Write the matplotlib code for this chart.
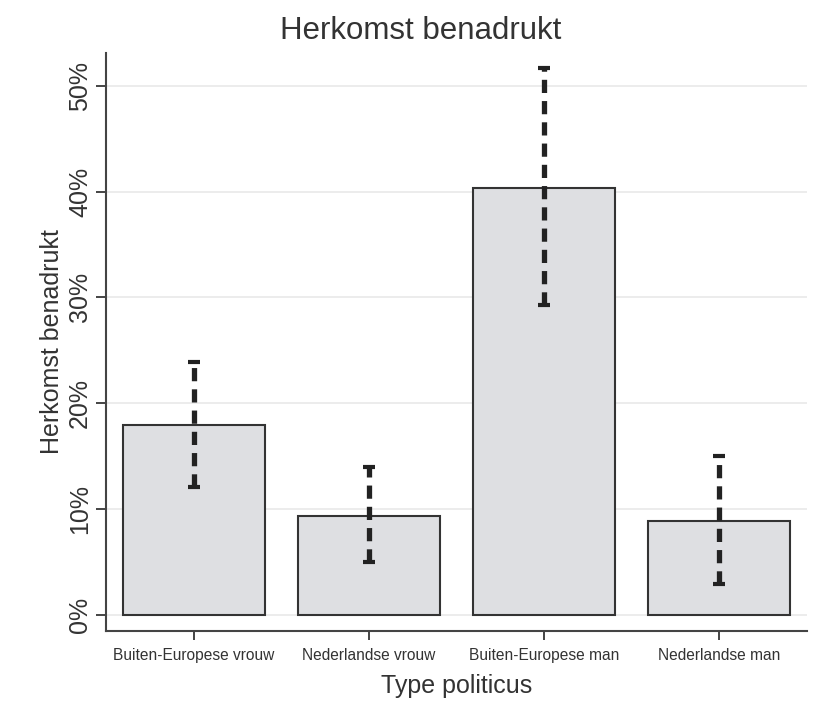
import numpy as np
import matplotlib
matplotlib.use("Agg")
import matplotlib.pyplot as plt
from matplotlib.ticker import FuncFormatter

plt.rcParams['font.family'] = ['Liberation Sans', 'DejaVu Sans']
plt.rcParams['lines.scale_dashes'] = False

# Data (percent)
categories = ["Buiten-Europese vrouw", "Nederlandse vrouw",
              "Buiten-Europese man", "Nederlandse man"]
means = [17.9, 9.35, 40.3, 8.9]
ci_low = [12.1, 4.95, 29.3, 2.9]
ci_high = [23.9, 13.95, 51.7, 15.0]
yticks = [0, 10, 20, 30, 40, 50]

txt = '#333333'
fig = plt.figure(figsize=(8.21, 7.15), dpi=100)
ax = fig.add_axes([0.129, 0.118, 0.854, 0.808])

x = np.arange(len(categories))
ax.bar(x, means, width=0.81, color='#dedfe2', edgecolor='#333333',
       linewidth=1.5, zorder=2)

yerr = [np.array(means) - np.array(ci_low), np.array(ci_high) - np.array(means)]
eb = ax.errorbar(x, means, yerr=yerr, fmt='none', ecolor='#222222',
                 elinewidth=3.8, capsize=4.6, capthick=3, zorder=3)
eb[2][0].set_linestyle((0, (9.5, 5.8)))

ax.set_xlim(-0.5, 3.5)
ax.set_ylim(-1.5, 53.1)
ax.set_yticks(yticks)
ax.yaxis.set_major_formatter(FuncFormatter(lambda v, p: f"{v:.0f}%"))
ax.set_xticks(x)
ax.set_xticklabels(categories, fontsize=11.2, color=txt)
for lab in ax.get_yticklabels():
    lab.set_rotation(90)
    lab.set_va('center')
ax.tick_params(axis='y', labelsize=18, labelcolor=txt, length=7,
               width=1.4, color='#444444', pad=3)
ax.tick_params(axis='x', length=6.5, width=1.4, color='#444444', pad=6)

ax.grid(axis='y', color='#ebebeb', linewidth=1.3, zorder=0)
ax.set_axisbelow(True)
for s in ['top', 'right']:
    ax.spines[s].set_visible(False)
for s in ['left', 'bottom']:
    ax.spines[s].set_color('#444444')
    ax.spines[s].set_linewidth(1.5)

ax.set_ylabel("Herkomst benadrukt", fontsize=18, color=txt, labelpad=3)
ax.set_xlabel("Type politicus", fontsize=18, color=txt, labelpad=8)
fig.text(421 / 821, 1 - 31 / 715, "Herkomst benadrukt", fontsize=22.5,
         color=txt, ha='center', va='center')

fig.savefig("out.png", dpi=100, facecolor='white')
